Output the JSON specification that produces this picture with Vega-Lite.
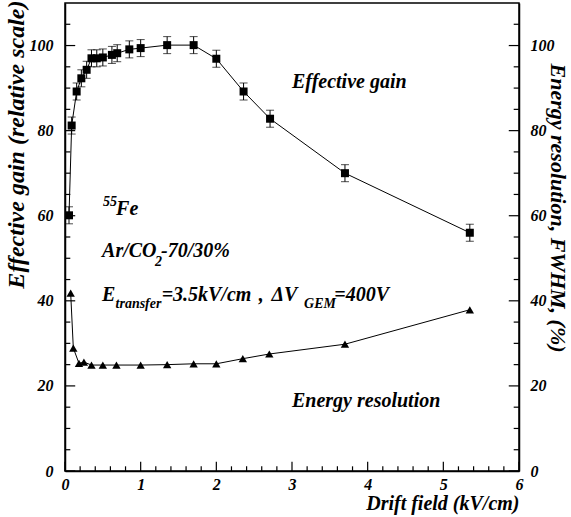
{
  "$schema": "https://vega.github.io/schema/vega-lite/v6.json",
  "width": 454,
  "height": 468,
  "autosize": "none",
  "padding": {"left": 65, "top": 3, "right": 52, "bottom": 46},
  "background": "white",
  "config": {
    "view": {"stroke": "black", "strokeWidth": 1.5},
    "font": "Liberation Serif",
    "axis": {
      "grid": false,
      "domainColor": "black",
      "domainWidth": 1.5,
      "labelColor": "black",
      "labelFont": "Liberation Serif",
      "labelFontSize": 16,
      "labelFontStyle": "italic",
      "labelFontWeight": "bold",
      "labelFlush": false,
      "labelOverlap": false,
      "titleColor": "black",
      "titleFont": "Liberation Serif",
      "titleFontSize": 20,
      "titleFontStyle": "italic",
      "titleFontWeight": "bold"
    },
    "text": {"font": "Liberation Serif", "fontStyle": "italic", "fontWeight": "bold", "color": "black"}
  },
  "datasets": {
    "gain": [
      {"x": 0.053, "y": 60.1, "err": 2.0},
      {"x": 0.088, "y": 81.2, "err": 2.0},
      {"x": 0.154, "y": 89.2, "err": 2.0},
      {"x": 0.216, "y": 92.3, "err": 2.0},
      {"x": 0.286, "y": 94.3, "err": 2.0},
      {"x": 0.35, "y": 97.0, "err": 2.0},
      {"x": 0.42, "y": 97.0, "err": 2.0},
      {"x": 0.50, "y": 97.2, "err": 2.0},
      {"x": 0.62, "y": 97.8, "err": 2.0},
      {"x": 0.69, "y": 98.2, "err": 2.0},
      {"x": 0.85, "y": 99.1, "err": 2.0},
      {"x": 1.0, "y": 99.4, "err": 2.0},
      {"x": 1.35, "y": 100.1, "err": 2.0},
      {"x": 1.70, "y": 100.1, "err": 2.0},
      {"x": 2.0, "y": 96.9, "err": 2.0},
      {"x": 2.36, "y": 89.2, "err": 2.0},
      {"x": 2.71, "y": 82.8, "err": 2.0},
      {"x": 3.70, "y": 70.0, "err": 2.0},
      {"x": 5.35, "y": 56.0, "err": 2.0}
    ],
    "resolution": [
      {"x": 0.075, "y": 41.8},
      {"x": 0.11, "y": 28.9},
      {"x": 0.185, "y": 25.3},
      {"x": 0.25, "y": 25.6},
      {"x": 0.35, "y": 24.9},
      {"x": 0.50, "y": 24.9},
      {"x": 0.68, "y": 24.9},
      {"x": 1.0, "y": 24.9},
      {"x": 1.35, "y": 25.0},
      {"x": 1.70, "y": 25.2},
      {"x": 2.0, "y": 25.2},
      {"x": 2.35, "y": 26.4},
      {"x": 2.70, "y": 27.5},
      {"x": 3.70, "y": 29.8},
      {"x": 5.35, "y": 37.9}
    ],
    "bigtext": [
      {"x": 3.0, "y": 90.0, "t": "Effective gain"},
      {"x": 3.0, "y": 15.1, "t": "Energy resolution"},
      {"x": 0.675, "y": 60.2, "t": "Fe"},
      {"x": 0.49, "y": 50.3, "t": "Ar/CO"},
      {"x": 1.27, "y": 50.3, "t": "-70/30%"},
      {"x": 0.49, "y": 40.0, "t": "E"},
      {"x": 1.277, "y": 40.0, "t": "=3.5kV/cm"},
      {"x": 2.56, "y": 40.0, "t": ","},
      {"x": 2.73, "y": 40.0, "t": "ΔV"},
      {"x": 3.56, "y": 40.0, "t": "=400V"}
    ],
    "smalltext": [
      {"x": 0.503, "y": 62.4, "t": "55"},
      {"x": 1.19, "y": 48.3, "t": "2"},
      {"x": 0.668, "y": 38.3, "t": "transfer"},
      {"x": 3.16, "y": 38.3, "t": "GEM"}
    ],
    "xmaj": [{"v": 0}, {"v": 1}, {"v": 2}, {"v": 3}, {"v": 4}, {"v": 5}, {"v": 6}],
    "xmin": [{"v": 0.2}, {"v": 0.4}, {"v": 0.6}, {"v": 0.8}, {"v": 1.2}, {"v": 1.4}, {"v": 1.6}, {"v": 1.8}, {"v": 2.2}, {"v": 2.4}, {"v": 2.6}, {"v": 2.8}, {"v": 3.2}, {"v": 3.4}, {"v": 3.6}, {"v": 3.8}, {"v": 4.2}, {"v": 4.4}, {"v": 4.6}, {"v": 4.8}, {"v": 5.2}, {"v": 5.4}, {"v": 5.6}, {"v": 5.8}],
    "ymaj": [{"v": 0}, {"v": 20}, {"v": 40}, {"v": 60}, {"v": 80}, {"v": 100}],
    "ymin": [{"v": 5}, {"v": 10}, {"v": 15}, {"v": 25}, {"v": 30}, {"v": 35}, {"v": 45}, {"v": 50}, {"v": 55}, {"v": 65}, {"v": 70}, {"v": 75}, {"v": 85}, {"v": 90}, {"v": 95}, {"v": 105}]
  },
  "layer": [
    {
      "data": {"name": "gain"},
      "mark": {"type": "line", "color": "black", "strokeWidth": 1},
      "encoding": {
        "x": {
          "field": "x", "type": "quantitative",
          "scale": {"domain": [0, 6], "nice": false, "zero": false},
          "axis": {
            "orient": "bottom",
            "values": [0, 1, 2, 3, 4, 5, 6],
            "ticks": false,
            "labelPadding": 5,
            "labelFontSize": 16,
            "labelFontStyle": "italic",
            "labelFontWeight": "bold",
            "title": "Drift field (kV/cm)",
            "titleAnchor": "end",
            "titleAlign": "right",
            "titleBaseline": "alphabetic",
            "titleX": 454,
            "titleY": 38
          }
        },
        "y": {
          "field": "y", "type": "quantitative",
          "scale": {"domain": [0, 110], "nice": false, "zero": false},
          "axis": {
            "orient": "left",
            "values": [0, 20, 40, 60, 80, 100],
            "ticks": false,
            "labelPadding": 12,
            "labelFontSize": 16,
            "labelFontStyle": "italic",
            "labelFontWeight": "bold",
            "title": "Effective gain (relative scale)",
            "titleFontSize": 24,
            "titleAngle": -90,
            "titleAlign": "right",
            "titleBaseline": "bottom",
            "titleX": -37,
            "titleY": -3
          }
        }
      }
    },
    {
      "data": {"name": "gain"},
      "mark": {"type": "errorbar", "ticks": {"size": 8, "color": "black"}, "rule": {"color": "black", "strokeWidth": 1}},
      "encoding": {
        "x": {"field": "x", "type": "quantitative", "axis": null},
        "y": {"field": "y", "type": "quantitative", "axis": null},
        "yError": {"field": "err"}
      }
    },
    {
      "data": {"name": "gain"},
      "mark": {"type": "point", "shape": "square", "filled": true, "color": "black", "opacity": 1, "size": 64},
      "encoding": {
        "x": {"field": "x", "type": "quantitative", "axis": null},
        "y": {"field": "y", "type": "quantitative", "axis": null}
      }
    },
    {
      "data": {"name": "resolution"},
      "mark": {"type": "line", "color": "black", "strokeWidth": 1},
      "encoding": {
        "x": {"field": "x", "type": "quantitative", "axis": null},
        "y": {
          "field": "y", "type": "quantitative",
          "axis": {
            "orient": "right",
            "values": [0, 20, 40, 60, 80, 100],
            "ticks": false,
            "labelPadding": 11,
            "labelFontSize": 16,
            "labelFontStyle": "italic",
            "labelFontWeight": "bold",
            "title": "Energy resolution, FWHM, (%)",
            "titleFontSize": 22,
            "titleAngle": 90,
            "titleAlign": "left",
            "titleBaseline": "bottom",
            "titleX": 26,
            "titleY": 60
          }
        }
      }
    },
    {
      "data": {"name": "resolution"},
      "mark": {"type": "point", "shape": "triangle-up", "filled": true, "color": "black", "opacity": 1, "size": 70},
      "encoding": {
        "x": {"field": "x", "type": "quantitative", "axis": null},
        "y": {"field": "y", "type": "quantitative", "axis": null}
      }
    },
    {
      "data": {"name": "xmaj"},
      "mark": {"type": "rule", "color": "black", "strokeWidth": 1.2},
      "encoding": {
        "x": {"field": "v", "type": "quantitative", "axis": null},
        "y": {"datum": 0, "type": "quantitative", "axis": null},
        "y2": {"datum": 2.2}
      }
    },
    {
      "data": {"name": "xmin"},
      "mark": {"type": "rule", "color": "black", "strokeWidth": 1.2},
      "encoding": {
        "x": {"field": "v", "type": "quantitative", "axis": null},
        "y": {"datum": 0, "type": "quantitative", "axis": null},
        "y2": {"datum": 1.1}
      }
    },
    {
      "data": {"name": "ymaj"},
      "mark": {"type": "rule", "color": "black", "strokeWidth": 1.2},
      "encoding": {
        "y": {"field": "v", "type": "quantitative", "axis": null},
        "x": {"datum": 0, "type": "quantitative", "axis": null},
        "x2": {"datum": 0.135}
      }
    },
    {
      "data": {"name": "ymin"},
      "mark": {"type": "rule", "color": "black", "strokeWidth": 1.2},
      "encoding": {
        "y": {"field": "v", "type": "quantitative", "axis": null},
        "x": {"datum": 0, "type": "quantitative", "axis": null},
        "x2": {"datum": 0.07}
      }
    },
    {
      "data": {"name": "ymaj"},
      "mark": {"type": "rule", "color": "black", "strokeWidth": 1.2},
      "encoding": {
        "y": {"field": "v", "type": "quantitative", "axis": null},
        "x": {"datum": 6, "type": "quantitative", "axis": null},
        "x2": {"datum": 5.865}
      }
    },
    {
      "data": {"name": "ymin"},
      "mark": {"type": "rule", "color": "black", "strokeWidth": 1.2},
      "encoding": {
        "y": {"field": "v", "type": "quantitative", "axis": null},
        "x": {"datum": 6, "type": "quantitative", "axis": null},
        "x2": {"datum": 5.93}
      }
    },
    {
      "data": {"name": "bigtext"},
      "mark": {"type": "text", "fontSize": 20, "align": "left", "baseline": "alphabetic"},
      "encoding": {
        "x": {"field": "x", "type": "quantitative", "axis": null},
        "y": {"field": "y", "type": "quantitative", "axis": null},
        "text": {"field": "t"}
      }
    },
    {
      "data": {"name": "smalltext"},
      "mark": {"type": "text", "fontSize": 14, "align": "left", "baseline": "alphabetic"},
      "encoding": {
        "x": {"field": "x", "type": "quantitative", "axis": null},
        "y": {"field": "y", "type": "quantitative", "axis": null},
        "text": {"field": "t"}
      }
    }
  ],
  "resolve": {"axis": {"x": "independent", "y": "independent"}}
}
